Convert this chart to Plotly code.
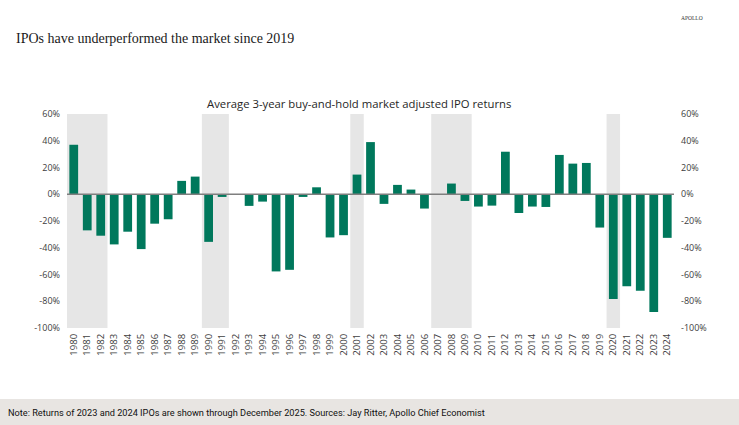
import plotly.graph_objects as go

years = list(range(1980, 2025))
returns = [37, -27, -31, -37.5, -28, -41, -22, -18.7, 10, 13.2,
           -35.6, -2, 0, -8.7, -5.5, -57.7, -56.5, -2, 5.2, -32.3,
           -30.6, 14.7, 39, -7.2, 7, 3.5, -10.7, -0.5, 8, -5,
           -9.2, -8.5, 31.8, -14, -9.2, -9.5, 29.4, 22.9, 23.4, -24.9,
           -78.4, -68.7, -72.1, -88, -32.6]

# shaded periods (first year, last year)
recessions = [(1980, 1982), (1990, 1991), (2001, 2001), (2007, 2009), (2020, 2020)]

ytick_vals = [60, 40, 20, 0, -20, -40, -60, -80, -100]
ytick_text = [f"{v}%" for v in ytick_vals]

W, H = 739, 425
ML, MR, MT, MB = 67, 65, 114, 97
PH = H - MT - MB


def py(px):
    # pixel row -> paper y
    return (H - MB - px) / PH


def px_x(px):
    return (px - ML) / (W - ML - MR)


fig = go.Figure()

fig.add_trace(go.Bar(
    x=years, y=returns,
    marker=dict(color="#00785c", line=dict(width=0)),
    width=0.65,
    hoverinfo="x+y",
))
# invisible trace so the right axis is drawn
fig.add_trace(go.Scatter(x=[years[0]], y=[0], yaxis="y2", mode="markers",
                         marker=dict(opacity=0), showlegend=False, hoverinfo="skip"))

for a, b in recessions:
    fig.add_shape(type="rect", xref="x", yref="y", x0=a - 0.5, x1=b + 0.5,
                  y0=-100, y1=60, fillcolor="#e6e6e6", line=dict(width=0), layer="below")

fig.add_shape(type="line", xref="paper", yref="y", x0=0, x1=1, y0=0, y1=0,
              line=dict(color="#7f7f7f", width=1.5))

# footer band
fig.add_shape(type="rect", xref="paper", yref="paper",
              x0=px_x(-2), x1=px_x(W + 2), y0=py(H + 2), y1=py(399),
              fillcolor="#e8e5e2", line=dict(width=0), layer="below")

axis_font = dict(family="Open Sans, Noto Sans, sans-serif", size=9, color="#404040")

fig.update_layout(
    width=W, height=H,
    margin=dict(l=ML, r=MR, t=MT, b=MB),
    paper_bgcolor="white", plot_bgcolor="white",
    showlegend=False,
    bargap=0.35,
    title=dict(text="IPOs have underperformed the market since 2019",
               x=16 / W, xanchor="left", xref="container",
               y=1 - 38 / H, yanchor="middle", yref="container",
               font=dict(family="Liberation Serif, serif", size=14, color="#1a1a1a")),
    xaxis=dict(range=[1979.5, 2024.5], tickmode="array", tickvals=years,
               ticktext=[str(y) for y in years], tickangle=-90, ticklabelstandoff=3,
               tickfont=dict(family="Open Sans, Noto Sans, sans-serif", size=9.5, color="#404040"),
               showgrid=False, zeroline=False, showline=False, ticks=""),
    yaxis=dict(range=[-100, 60], tickmode="array", tickvals=ytick_vals, ticktext=ytick_text,
               ticklabelstandoff=6,
               tickfont=axis_font, showgrid=False, zeroline=False, showline=False, ticks=""),
    yaxis2=dict(range=[-100, 60], overlaying="y", side="right", tickmode="array",
                tickvals=ytick_vals, ticktext=ytick_text, tickfont=axis_font,
                ticklabelstandoff=6,
                showgrid=False, zeroline=False, showline=False, ticks=""),
    annotations=[
        dict(text="Average 3-year buy-and-hold market adjusted IPO returns",
             xref="paper", yref="paper", x=px_x(359), y=py(103), xanchor="center", yanchor="middle",
             showarrow=False, font=dict(family="Open Sans, Noto Sans, sans-serif", size=11.3, color="#262626")),
        dict(text="APOLLO", xref="paper", yref="paper", x=px_x(705), y=py(18),
             xanchor="right", yanchor="middle", showarrow=False,
             font=dict(family="Liberation Serif, serif", size=5.5, color="#333333")),
        dict(text="Note: Returns of 2023 and 2024 IPOs are shown through December 2025. "
                  "Sources: Jay Ritter, Apollo Chief Economist",
             xref="paper", yref="paper", x=px_x(6), y=py(412), xanchor="left", yanchor="middle",
             showarrow=False,
             font=dict(family="Roboto, sans-serif", size=9.2, color="#111111")),
    ],
)

# the page's default body margin would shift the figure by 8px
fig.write_html("out.html", config={"displayModeBar": False},
               post_script="document.body.style.margin='0';")
